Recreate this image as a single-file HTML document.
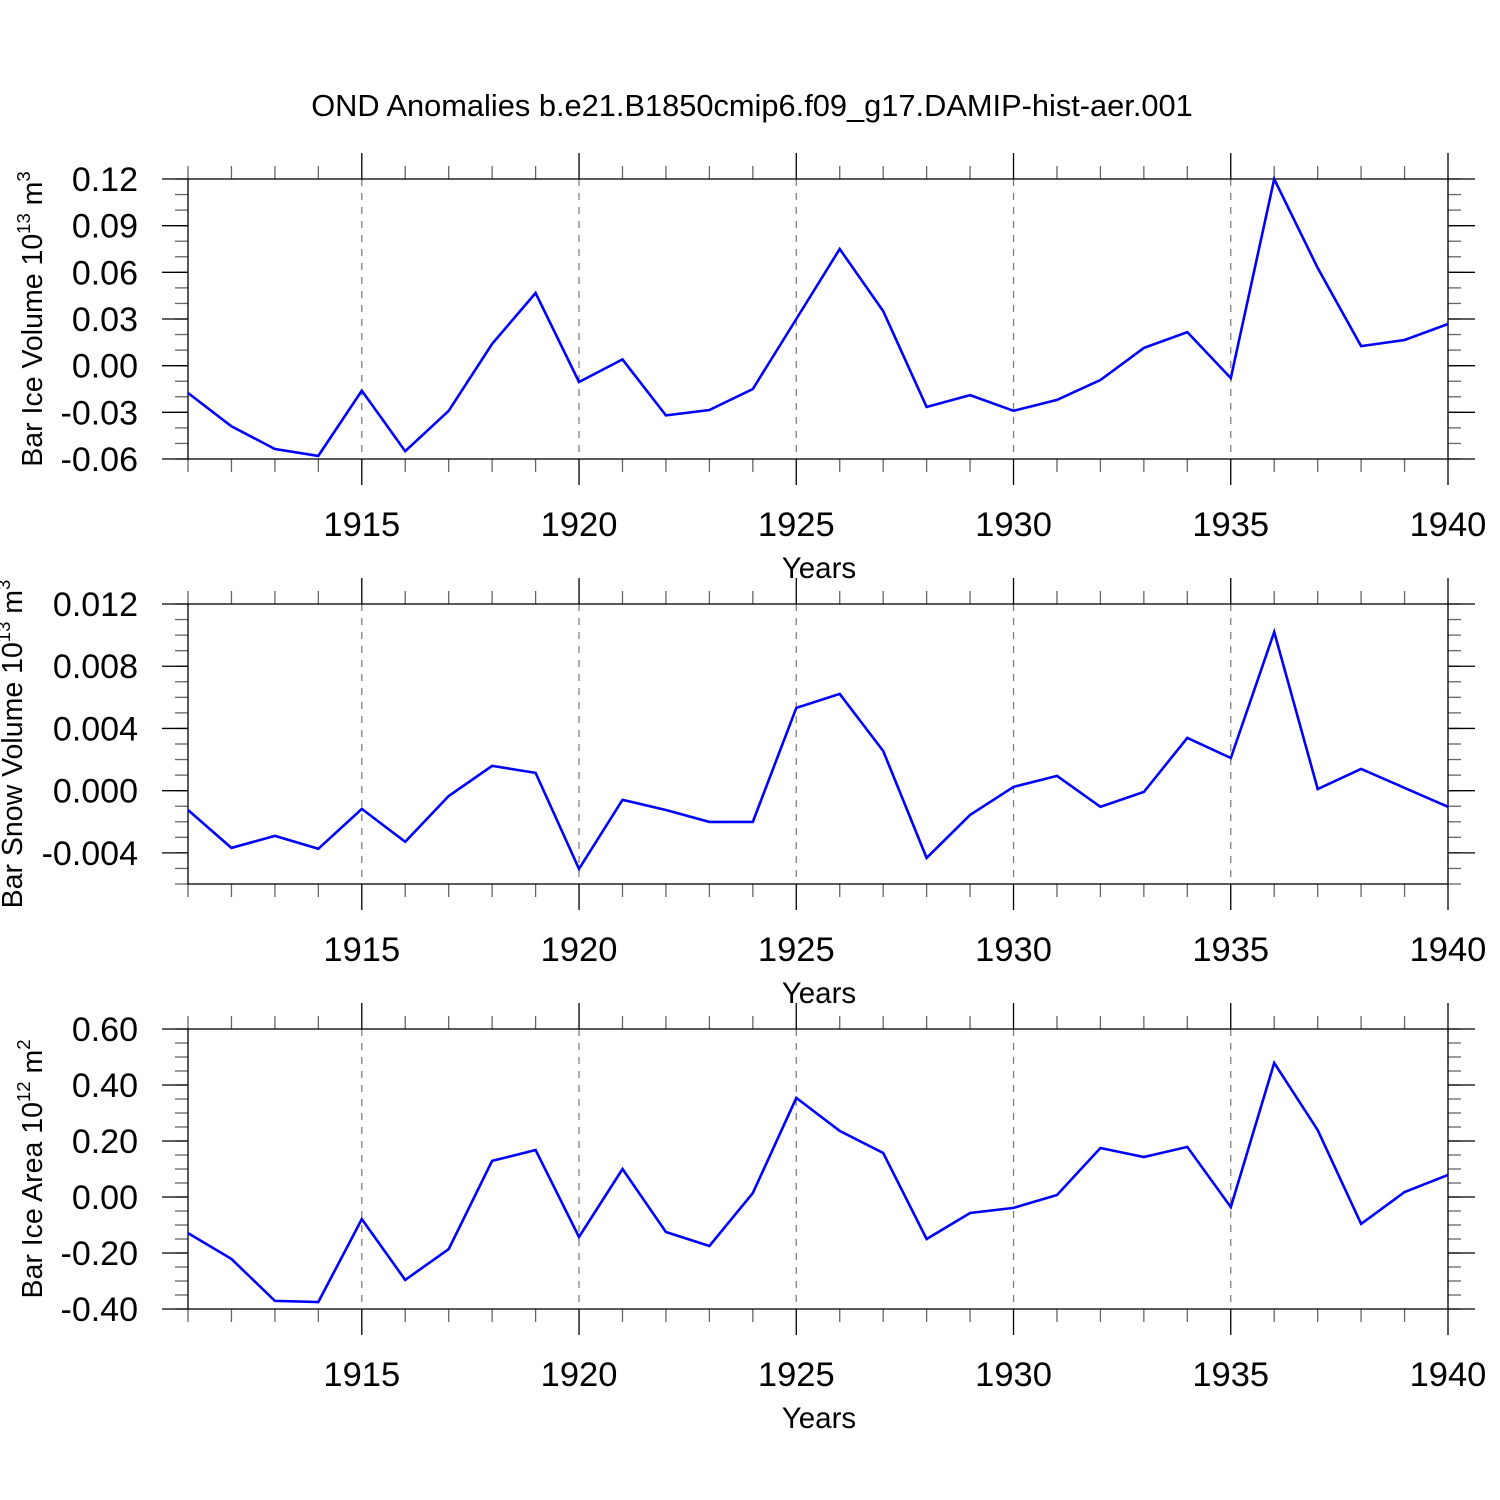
<!DOCTYPE html>
<html><head><meta charset="utf-8"><style>
html,body{margin:0;padding:0;background:#fff;}
svg{display:block;font-family:"Liberation Sans",Arial,sans-serif;}
</style></head><body>
<svg id="chart" width="1500" height="1500" viewBox="0 0 1500 1500" xmlns="http://www.w3.org/2000/svg">
<text x="752" y="116" font-size="30.8" text-anchor="middle">OND Anomalies b.e21.B1850cmip6.f09_g17.DAMIP-hist-aer.001</text>
</svg>
<script>
const years = [1911,1912,1913,1914,1915,1916,1917,1918,1919,1920,1921,1922,1923,1924,1925,1926,1927,1928,1929,1930,1931,1932,1933,1934,1935,1936,1937,1938,1939,1940];
const xTickYears = [1915,1920,1925,1930,1935,1940];
const iceVolume = [-0.0176,-0.039,-0.0536,-0.058,-0.016,-0.055,-0.029,0.014,0.0467,-0.0105,0.004,-0.032,-0.0285,-0.015,0.030,0.075,0.0351,-0.0266,-0.0189,-0.029,-0.022,-0.0092,0.0114,0.0216,-0.008,0.12,0.0628,0.0126,0.0165,0.0268];
const snowVolume = [-0.00124,-0.00368,-0.00291,-0.00374,-0.00117,-0.00329,-0.00034,0.00159,0.00114,-0.00503,-0.00059,-0.00124,-0.00201,-0.00201,0.00532,0.00622,0.00255,-0.00432,-0.00156,0.00024,0.00095,-0.00104,-0.00008,0.00339,0.0021,0.0102,0.00011,0.0014,0.00018,-0.00104];
const iceArea = [-0.129,-0.221,-0.371,-0.375,-0.079,-0.296,-0.186,0.129,0.168,-0.143,0.1,-0.125,-0.175,0.014,0.354,0.236,0.157,-0.15,-0.057,-0.039,0.007,0.175,0.143,0.179,-0.036,0.479,0.239,-0.096,0.018,0.079];
const iceVolumeTicks = ["0.12","0.09","0.06","0.03","0.00","-0.03","-0.06"];
const snowVolumeTicks = ["0.012","0.008","0.004","0.000","-0.004"];
const iceAreaTicks = ["0.60","0.40","0.20","0.00","-0.20","-0.40"];

const NS="http://www.w3.org/2000/svg";
const svg=document.getElementById('chart');
const X0=188,X1=1448;
function xs(yr){return X0+(yr-1911)/(1940-1911)*(X1-X0);}
function mk(tag,attrs,parent){const e=document.createElementNS(NS,tag);for(const k in attrs)e.setAttribute(k,attrs[k]);(parent||svg).appendChild(e);return e;}

const panels=[
 {name:'ice-volume',top:179,bot:459,min:-0.06,max:0.12,data:iceVolume,ticks:iceVolumeTicks,minor:0.01,label:'Bar Ice Volume 10',sup:'13',unit:' m',usup:'3',lx:32},
 {name:'snow-volume',top:604,bot:884,min:-0.006,max:0.012,data:snowVolume,ticks:snowVolumeTicks,minor:0.001,label:'Bar Snow Volume 10',sup:'13',unit:' m',usup:'3',lx:12},
 {name:'ice-area',top:1029,bot:1309,min:-0.4,max:0.6,data:iceArea,ticks:iceAreaTicks,minor:0.05,label:'Bar Ice Area 10',sup:'12',unit:' m',usup:'2',lx:32}
];
panels.forEach(p=>{
 const g=mk('g',{});
 
 
 const ys=v=>p.bot-(v-p.min)/(p.max-p.min)*(p.bot-p.top);
 xTickYears.forEach(yr=>{
  const l=mk('line',{x1:xs(yr),x2:xs(yr),y1:p.top,y2:p.bot,stroke:'#777','stroke-width':1.2,'stroke-dasharray':'7,7'},g);
  
  
 });
 years.forEach(yr=>{
  const isMaj=xTickYears.includes(yr);
  const len=isMaj?26:13;
  const c=isMaj?'#000':'#666';
  mk('line',{x1:xs(yr),x2:xs(yr),y1:p.top-len,y2:p.top,stroke:c,'stroke-width':1.3},g);
  mk('line',{x1:xs(yr),x2:xs(yr),y1:p.bot,y2:p.bot+len,stroke:c,'stroke-width':1.3},g);
 });
 xTickYears.forEach(yr=>{
  const t=mk('text',{x:xs(yr),y:p.bot+77,'font-size':34.5,'text-anchor':'middle'},g);
  t.textContent=yr;
  
  
 });
 const xt=mk('text',{x:819,y:p.bot+119,'font-size':29.5,'text-anchor':'middle'},g);
 xt.textContent='Years';
 
 
 const n=Math.round((p.max-p.min)/p.minor);
 for(let i=0;i<=n;i++){
  const v=p.min+i*p.minor, y=ys(v);
  mk('line',{x1:X0-13,x2:X0,y1:y,y2:y,stroke:'#666','stroke-width':1.3},g);
  mk('line',{x1:X1,x2:X1+13,y1:y,y2:y,stroke:'#666','stroke-width':1.3},g);
 }
 p.ticks.forEach(s=>{
  const y=ys(parseFloat(s));
  mk('line',{x1:X0-26,x2:X0,y1:y,y2:y,stroke:'#000','stroke-width':1.3},g);
  mk('line',{x1:X1,x2:X1+27,y1:y,y2:y,stroke:'#000','stroke-width':1.3},g);
  const t=mk('text',{x:138,y:y+12,'font-size':34,'text-anchor':'end'},g);
  t.textContent=s;
  
  
 });
 const fr=mk('rect',{x:X0,y:p.top,width:X1-X0,height:p.bot-p.top,fill:'none',stroke:'#000','stroke-width':1.3},g);
 
 
 const cy=(p.top+p.bot)/2;
 const yl=mk('text',{x:0,y:0,'font-size':28.5,'text-anchor':'middle',transform:`translate(${p.lx+10},${cy}) rotate(-90)`},g);
 
 
 const a=mk('tspan',{},yl);a.textContent=p.label;
 const b=mk('tspan',{dy:-12,'font-size':18.5},yl);b.textContent=p.sup;
 const c2=mk('tspan',{dy:12},yl);c2.textContent=p.unit;
 const d=mk('tspan',{dy:-12,'font-size':18.5},yl);d.textContent=p.usup;
 const pts=p.data.map((v,i)=>xs(years[i]).toFixed(1)+','+ys(v).toFixed(1)).join(' ');
 const pl=mk('polyline',{points:pts,fill:'none',stroke:'#0000ff','stroke-width':2.6,'stroke-linejoin':'miter'},g);
 
 
});
</script>
</body></html>
